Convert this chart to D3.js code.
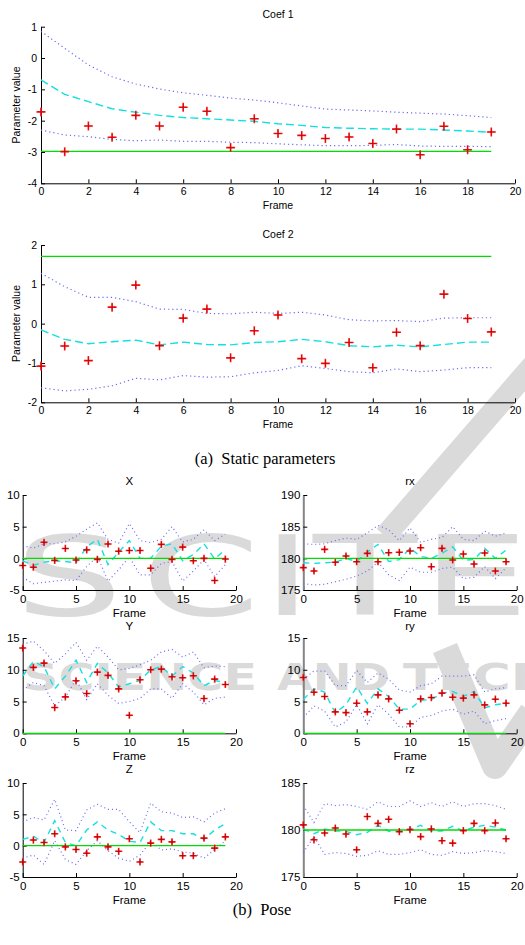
<!DOCTYPE html>
<html>
<head>
<meta charset="utf-8">
<script src="https://cdn.jsdelivr.net/npm/d3@7/dist/d3.min.js"></script>
<style>
  html, body { margin: 0; padding: 0; background: #fff; }
  svg { display: block; }
  text { font-family: "Liberation Sans", Arial, Helvetica, sans-serif; fill: #000; }
</style>
</head>
<body>
<svg id="chart" width="525" height="945"></svg>
<script>
// Frame indices shared by every panel
const frames = [0, 1, 2, 3, 4, 5, 6, 7, 8, 9, 10, 11, 12, 13, 14, 15, 16, 17, 18, 19];

// ---- Static parameters ----
const coef1Obs   = [-1.72, -2.99, -2.17, -2.53, -1.83, -2.17, -1.57, -1.70, -2.86, -1.94, -2.41, -2.47, -2.57, -2.52, -2.73, -2.27, -3.09, -2.18, -2.93, -2.36];
const coef1Mean  = [-0.70, -1.16, -1.39, -1.62, -1.73, -1.83, -1.90, -1.94, -1.98, -2.02, -2.10, -2.15, -2.22, -2.24, -2.26, -2.27, -2.27, -2.30, -2.33, -2.37];
const coef1Upper = [0.85, 0.31, -0.22, -0.60, -0.83, -0.99, -1.11, -1.19, -1.28, -1.34, -1.43, -1.53, -1.63, -1.66, -1.69, -1.73, -1.76, -1.79, -1.84, -1.90];
const coef1Lower = [-2.30, -2.46, -2.51, -2.60, -2.64, -2.62, -2.66, -2.66, -2.69, -2.70, -2.74, -2.77, -2.80, -2.80, -2.79, -2.76, -2.81, -2.82, -2.82, -2.83];
const coef1True  = -2.98;

const coef2Obs   = [-1.08, -0.57, -0.94, 0.42, 0.98, -0.56, 0.14, 0.37, -0.87, -0.18, 0.22, -0.89, -1.01, -0.48, -1.12, -0.22, -0.56, 0.75, 0.13, -0.21];
const coef2Mean  = [-0.16, -0.40, -0.51, -0.46, -0.42, -0.54, -0.47, -0.53, -0.54, -0.48, -0.46, -0.40, -0.46, -0.56, -0.59, -0.55, -0.59, -0.53, -0.47, -0.47];
const coef2Upper = [1.28, 0.94, 0.67, 0.67, 0.56, 0.37, 0.36, 0.26, 0.25, 0.29, 0.26, 0.29, 0.22, 0.10, 0.07, 0.08, 0.05, 0.14, 0.15, 0.15];
const coef2Lower = [-1.63, -1.71, -1.67, -1.58, -1.39, -1.43, -1.32, -1.36, -1.35, -1.25, -1.19, -1.07, -1.14, -1.22, -1.25, -1.15, -1.22, -1.18, -1.12, -1.12];
const coef2True  = 1.71;

// ---- Pose ----
const xObs   = [-1.13, -1.40, 2.53, -0.32, 1.56, -0.27, 1.34, -0.16, 2.26, 1.13, 1.24, 1.24, -1.56, 2.20, -0.16, 1.77, -0.38, 0.0, -3.49, -0.11];
const xMean  = [-0.4, -1.1, -0.6, -0.4, -0.5, -0.7, 1.8, 3.0, -1.0, 1.0, 2.8, 0.0, 0.0, 1.9, 2.3, -0.4, 0.6, 2.3, -0.1, 1.4];
const xUpper = [2.0, 1.6, 2.3, 2.3, 2.6, 3.5, 4.6, 5.6, 3.0, 2.4, 5.5, 2.8, 2.5, 3.0, 5.0, 2.6, 3.0, 4.5, 2.8, 3.8];
const xLower = [-3.0, -4.0, -3.8, -3.6, -3.4, -3.5, -1.3, 0.3, -3.6, -1.8, 0.2, -2.6, -2.6, -0.8, -0.5, -3.6, -2.0, -0.2, -2.9, -1.0];
const xTrue  = 0;

const rxObs   = [178.53, 178.0, 181.42, 179.37, 180.37, 179.47, 180.79, 179.47, 180.89, 180.95, 181.16, 181.68, 178.68, 181.58, 179.74, 180.68, 179.1, 180.84, 178.0, 179.47];
const rxMean  = [179.3, 179.2, 179.3, 179.4, 180.0, 179.5, 181.0, 182.2, 179.5, 179.8, 181.6, 180.3, 180.0, 180.8, 181.8, 179.7, 179.8, 181.6, 180.0, 181.3];
const rxUpper = [182.3, 182.2, 182.3, 182.8, 183.2, 183.0, 184.0, 185.2, 184.5, 182.8, 184.8, 182.5, 183.0, 183.3, 185.0, 183.0, 182.8, 184.3, 183.5, 184.0];
const rxLower = [176.0, 175.8, 175.9, 176.3, 176.7, 177.2, 178.0, 179.4, 177.4, 176.5, 178.6, 177.8, 177.8, 178.4, 178.6, 176.8, 177.0, 178.7, 176.8, 178.5];
const rxTrue  = 180;

const yObs   = [13.42, 10.37, 11.05, 4.05, 5.74, 8.26, 6.26, 9.63, 9.11, 7.0, 2.84, 8.42, 10.0, 10.1, 8.89, 8.74, 9.05, 5.47, 8.53, 7.68];
const yMean  = [9.0, 11.3, 10.5, 7.0, 9.0, 11.5, 8.0, 11.0, 9.5, 7.3, 7.8, 8.3, 10.0, 10.5, 9.0, 10.5, 9.5, 7.5, 8.3, 8.0];
const yUpper = [14.0, 14.5, 13.0, 11.0, 12.5, 14.3, 11.5, 13.7, 12.0, 10.0, 10.2, 10.8, 11.5, 12.8, 13.2, 12.0, 12.8, 10.3, 10.6, 10.5];
const yLower = [6.8, 8.0, 7.5, 4.3, 5.7, 8.5, 5.3, 7.8, 6.0, 4.7, 5.0, 5.5, 7.0, 7.0, 5.5, 7.8, 6.5, 4.5, 5.5, 5.7];
const yTrue  = 0;

const ryObs   = [8.79, 6.47, 5.79, 3.37, 3.26, 4.74, 3.37, 6.05, 5.42, 3.63, 1.5, 5.42, 5.63, 6.32, 5.68, 5.53, 6.05, 4.47, 5.37, 4.74];
const ryMean  = [5.3, 7.0, 6.5, 3.2, 4.5, 7.3, 4.7, 7.0, 5.8, 3.8, 3.8, 5.2, 5.3, 6.3, 6.6, 5.8, 6.6, 4.0, 4.5, 4.7];
const ryUpper = [8.5, 9.8, 9.8, 7.5, 7.5, 9.9, 8.0, 9.5, 8.5, 6.8, 6.5, 7.5, 7.8, 9.0, 9.0, 9.0, 9.2, 6.5, 7.0, 7.2];
const ryLower = [2.5, 4.3, 3.5, 1.0, 1.8, 4.5, 1.5, 4.5, 3.0, 1.0, 1.0, 2.5, 2.8, 3.5, 3.8, 3.0, 3.5, 1.5, 2.0, 2.3];
const ryTrue  = 0;

const zObs   = [-2.6, 0.9, 0.5, 1.9, -0.2, -0.6, -1.2, 1.4, -0.2, -0.9, 1.1, -2.6, 0.4, 1.0, 0.6, -1.6, -1.6, 1.2, -0.4, 1.4];
const zMean  = [1.0, 1.5, 0.5, 4.0, 0.5, 0.0, 2.5, 3.8, 2.5, 1.8, 0.7, 0.5, 3.8, 2.4, 2.4, 1.9, 1.9, 1.0, 2.5, 3.5];
const zUpper = [3.8, 4.5, 4.1, 7.4, 2.5, 2.4, 5.7, 6.6, 5.8, 5.8, 3.8, 2.1, 6.8, 5.4, 5.2, 4.5, 4.6, 3.8, 5.2, 5.9];
const zLower = [-2.0, -1.5, -3.0, 0.8, -2.2, -3.0, -0.8, 0.8, -0.8, -2.0, -2.5, -1.5, 0.7, -0.7, -0.5, -1.0, -1.2, -2.0, -0.6, 0.8];
const zTrue  = 0;

const rzObs   = [180.54, 178.96, 179.68, 180.21, 179.57, 177.9, 181.43, 180.71, 181.14, 179.82, 180.04, 179.29, 180.11, 178.86, 178.6, 179.93, 180.71, 179.93, 180.75, 179.07];
const rzMean  = [180.1, 179.6, 180.1, 179.9, 179.85, 179.5, 179.75, 180.5, 179.85, 179.9, 180.1, 180.5, 179.9, 179.9, 180.4, 179.9, 180.3, 180.5, 180.3, 180.0];
const rzUpper = [182.6, 180.8, 182.8, 182.6, 182.7, 182.5, 182.2, 183.0, 182.5, 182.5, 183.1, 182.5, 182.9, 182.5, 183.0, 182.5, 182.8, 182.8, 182.6, 182.2];
const rzLower = [177.6, 179.3, 177.4, 177.6, 177.5, 177.2, 177.3, 177.8, 177.4, 177.4, 177.6, 177.9, 177.4, 177.3, 177.7, 177.5, 177.6, 177.8, 177.7, 177.5];
const rzTrue  = 180;

// Tick labels
const coefFrameTicks = [0, 2, 4, 6, 8, 10, 12, 14, 16, 18, 20];
const poseFrameTicks = [0, 5, 10, 15, 20];
const coef1Ticks = [1, 0, -1, -2, -3, -4];
const coef2Ticks = [2, 1, 0, -1, -2];
const xTicks  = [10, 5, 0, -5];
const rxTicks = [190, 185, 180, 175];
const yTicks  = [15, 10, 5, 0];
const ryTicks = [15, 10, 5, 0];
const zTicks  = [10, 5, 0, -5];
const rzTicks = [185, 180, 175];

const svg = d3.select("#chart");

// Light publisher watermark sitting behind the plots
const WM = "#dadada";
const wm = svg.append("g").attr("fill", WM).attr("stroke", "none");
wm.append("text")
  .attr("transform", "translate(0,615) scale(1.55,1)")
  .attr("x", "9.5 91 169 202 272")
  .attr("y", 0)
  .style("font-family", "'DejaVu Sans', sans-serif")
  .style("font-size", "110px")
  .style("fill", WM)
  .text("SCITE");
[["SCIENCE", 23, 234], ["AND", 277, 113], ["TECHNOLOGY", 403, 390]].forEach(([w, x0, len]) => {
  wm.append("text")
    .attr("x", x0).attr("y", 690)
    .attr("textLength", len).attr("lengthAdjust", "spacingAndGlyphs")
    .style("font-family", "'DejaVu Sans', sans-serif")
    .style("font-weight", "bold")
    .style("font-size", "38px")
    .style("fill", WM)
    .text(w);
});
wm.append("path").attr("d", "M548,348 L385,536")
  .attr("fill", "none").attr("stroke", WM).attr("stroke-width", 22);
wm.append("path").attr("d", "M445,648 L495,766 L532,712")
  .attr("fill", "none").attr("stroke", WM).attr("stroke-width", 26).attr("stroke-linejoin", "round");

const COLORS = { obs: "#ff1a1a", mean: "#14e0e0", band: "#6b6bf5", truth: "#00dd00" };

function drawPanel(p) {
  const g = svg.append("g");
  const x = d3.scaleLinear().domain([0, 20]).range([p.left, p.right]);
  const y = d3.scaleLinear().domain(p.yDomain).range([p.bottom, p.top]);

  // axes (ticks pointing inward)
  const xa = g.append("g")
    .attr("transform", `translate(0,${p.bottom})`)
    .call(d3.axisBottom(x).tickValues(p.xTicks).tickSize(-4).tickSizeOuter(0).tickPadding(p.xPad).tickFormat(d => String(d)));
  const ya = g.append("g")
    .attr("transform", `translate(${p.left},0)`)
    .call(d3.axisLeft(y).tickValues(p.yTicks).tickSize(-4).tickSizeOuter(0).tickPadding(p.yPad).tickFormat(d => String(d)));
  [xa, ya].forEach(a => {
    a.attr("font-family", null).attr("font-size", null);
    a.selectAll("text").style("font-size", p.tickFont + "px").attr("fill", "#000");
    a.selectAll("path, line").attr("stroke", "#000").attr("stroke-width", 1);
  });
  if (p.greyAxis) ya.selectAll("path").attr("stroke", "#858585").attr("stroke-width", 2);

  // posterior band limits
  const line = d3.line().x((d, i) => x(frames[i])).y(d => y(d));
  [p.upper, p.lower].forEach(arr => {
    g.append("path").datum(arr).attr("d", line)
      .attr("fill", "none").attr("stroke", COLORS.band).attr("stroke-width", 1.2)
      .attr("stroke-dasharray", p.dot);
  });
  // posterior mean
  g.append("path").datum(p.mean).attr("d", line)
    .attr("fill", "none").attr("stroke", COLORS.mean).attr("stroke-width", 1.4)
    .attr("stroke-dasharray", p.dash);
  // ground truth
  g.append("line")
    .attr("x1", x(frames[0])).attr("x2", x(frames[frames.length - 1]))
    .attr("y1", y(p.truth)).attr("y2", y(p.truth))
    .attr("stroke", COLORS.truth).attr("stroke-width", 1.3);
  // observations
  const s = p.cross;
  const crosses = g.append("g").selectAll("g").data(p.obs).join("g")
    .attr("transform", (d, i) => `translate(${x(frames[i])},${y(d)})`);
  crosses.append("path").attr("d", `M${-s},0H${s}M0,${-s}V${s}`)
    .attr("stroke", COLORS.obs).attr("stroke-width", 1.6).attr("fill", "none");
  crosses.append("path").attr("d", `M${-s + 1},0H${s - 1}M0,${-s + 1}V${s - 1}`)
    .attr("stroke", p.crossCore).attr("stroke-width", 0.6).attr("fill", "none");

  // titles & labels
  g.append("text").attr("x", p.titleX ?? (p.left + p.right) / 2).attr("y", p.titleY)
    .attr("text-anchor", "middle").style("font-size", p.titleFont + "px").text(p.title);
  g.append("text").attr("x", (p.left + p.right) / 2).attr("y", p.frameY)
    .attr("text-anchor", "middle").style("font-size", p.labelFont + "px").text("Frame");
  if (p.ylabel) {
    g.append("text")
      .attr("transform", `translate(19.5,${p.ylabelY}) rotate(-90)`)
      .attr("text-anchor", "middle").style("font-size", p.labelFont + "px").text(p.ylabel);
  }
}

const coefStyle = { left: 41, right: 515, xTicks: coefFrameTicks, xPad: 4, yPad: 4, tickFont: 10.5,
  titleFont: 10.5, labelFont: 10.5, dot: "1.2,3", dash: "8,4", cross: 4.5, crossCore: "#b00000", ylabel: "Parameter value" };

drawPanel({ ...coefStyle, title: "Coef 1", titleX: 278, titleY: 18, top: 26.7, bottom: 183.3,
  yDomain: [-4, 1], yTicks: coef1Ticks, frameY: 209, ylabelY: 105,
  obs: coef1Obs, mean: coef1Mean, upper: coef1Upper, lower: coef1Lower, truth: coef1True });
drawPanel({ ...coefStyle, title: "Coef 2", titleX: 278, titleY: 238, top: 245, bottom: 402.3,
  yDomain: [-2, 2], yTicks: coef2Ticks, frameY: 428, ylabelY: 323.5,
  obs: coef2Obs, mean: coef2Mean, upper: coef2Upper, lower: coef2Lower, truth: coef2True });

const poseStyle = { xTicks: poseFrameTicks, xPad: 5, yPad: 3, tickFont: 11.5, titleFont: 11.5, labelFont: 11.5,
  dot: "1,3", dash: "6,5", cross: 3.6, crossCore: "#8a0000" };
const colL = { left: 22.7, right: 236 };
const colR = { left: 303.3, right: 516.7, greyAxis: true };
const row1 = { top: 495, bottom: 590, titleY: 485, frameY: 617 };
const row2 = { top: 638, bottom: 733.3, titleY: 630, frameY: 760 };
const row3 = { top: 783, bottom: 877, titleY: 773, frameY: 904 };

drawPanel({ ...poseStyle, ...colL, ...row1, title: "X", yDomain: [-5, 10], yTicks: xTicks,
  obs: xObs, mean: xMean, upper: xUpper, lower: xLower, truth: xTrue });
drawPanel({ ...poseStyle, ...colR, ...row1, title: "rx", yDomain: [175, 190], yTicks: rxTicks,
  obs: rxObs, mean: rxMean, upper: rxUpper, lower: rxLower, truth: rxTrue });
drawPanel({ ...poseStyle, ...colL, ...row2, title: "Y", yDomain: [0, 15], yTicks: yTicks,
  obs: yObs, mean: yMean, upper: yUpper, lower: yLower, truth: yTrue });
drawPanel({ ...poseStyle, ...colR, ...row2, title: "ry", yDomain: [0, 15], yTicks: ryTicks,
  obs: ryObs, mean: ryMean, upper: ryUpper, lower: ryLower, truth: ryTrue });
drawPanel({ ...poseStyle, ...colL, ...row3, title: "Z", yDomain: [-5, 10], yTicks: zTicks,
  obs: zObs, mean: zMean, upper: zUpper, lower: zLower, truth: zTrue });
drawPanel({ ...poseStyle, ...colR, ...row3, title: "rz", yDomain: [175, 185], yTicks: rzTicks,
  obs: rzObs, mean: rzMean, upper: rzUpper, lower: rzLower, truth: rzTrue });

// Sub-figure captions
const cap = svg.append("g").style("font-family", "'Liberation Serif', 'Times New Roman', serif").style("font-size", "16.5px");
cap.append("text").attr("x", 265).attr("y", 464).attr("text-anchor", "middle")
  .style("font-family", "'Liberation Serif', 'Times New Roman', serif").style("white-space", "pre")
  .text("(a)\u00a0 Static parameters");
cap.append("text").attr("x", 262).attr("y", 915).attr("text-anchor", "middle")
  .style("font-family", "'Liberation Serif', 'Times New Roman', serif").style("white-space", "pre")
  .text("(b)\u00a0 Pose");
</script>
</body>
</html>
